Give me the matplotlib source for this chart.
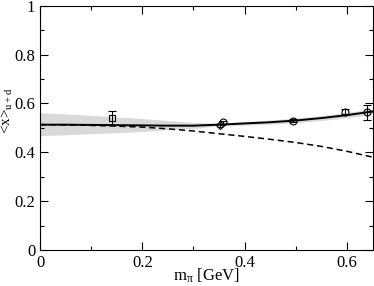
import matplotlib
matplotlib.use("Agg")
from matplotlib import pyplot as plt
from matplotlib.ticker import MultipleLocator

plt.rcParams['font.family'] = ['Liberation Serif', 'DejaVu Serif']
plt.rcParams['mathtext.fontset'] = 'custom'
plt.rcParams['mathtext.rm'] = 'Liberation Serif'
plt.rcParams['mathtext.it'] = 'Liberation Serif:italic'

# fit curves
curva_x = [0.0, 0.05, 0.1, 0.15, 0.2, 0.25, 0.3, 0.35, 0.4, 0.45, 0.5, 0.55, 0.6, 0.65]
solida = [0.513, 0.513, 0.512, 0.511, 0.510, 0.509, 0.509, 0.513, 0.518, 0.523, 0.530, 0.540, 0.552, 0.567]
discont = [0.513, 0.512, 0.510, 0.507, 0.503, 0.496, 0.487, 0.476, 0.465, 0.453, 0.440, 0.424, 0.404, 0.380]
banda_arriba = [0.562, 0.557, 0.551, 0.545, 0.538, 0.530, 0.522, 0.519, 0.526, 0.532, 0.540, 0.550, 0.563, 0.578]
banda_abajo = [0.468, 0.472, 0.476, 0.480, 0.485, 0.492, 0.498, 0.508, 0.511, 0.515, 0.521, 0.530, 0.541, 0.556]

# lattice points
cuadro_x = [0.141]
cuadro_y = [0.540]
cuadro_err = [0.028]

rombo_x = [0.351]
rombo_y = [0.510]
rombo_err = [0.005]

circ_x = [0.357, 0.495, 0.596, 0.640]
circ_y = [0.522, 0.530, 0.566, 0.563]
circ_err = [0.006, 0.006, 0.011, 0.032]

fig = plt.figure(figsize=(3.74, 2.86), dpi=100)
ax = fig.add_axes([0.107, 0.126, 0.889, 0.854])

ax.fill_between(curva_x, banda_abajo, banda_arriba, color="#d9d9d9", lw=0)
ax.plot(curva_x, solida, color="black", lw=1.4)
ax.plot(curva_x, discont, color="black", lw=1.1, ls=(0, (4, 2.5)))

ax.errorbar(cuadro_x, cuadro_y, yerr=cuadro_err, fmt="s", ms=5, mfc="none",
            mec="black", ecolor="black", elinewidth=0.8, capsize=3, mew=0.8)
ax.errorbar(rombo_x, rombo_y, yerr=rombo_err, fmt="D", ms=4, mfc="none",
            mec="black", ecolor="black", elinewidth=0.8, capsize=2, mew=0.8)
ax.errorbar(circ_x, circ_y, yerr=circ_err, fmt="o", ms=5, mfc="none",
            mec="black", ecolor="black", elinewidth=0.8, capsize=3, mew=0.8)

ax.set_xlim(0, 0.65)
ax.set_ylim(0, 1)
ax.xaxis.set_major_locator(MultipleLocator(0.2))
ax.xaxis.set_minor_locator(MultipleLocator(0.1))
ax.yaxis.set_major_locator(MultipleLocator(0.2))
ax.yaxis.set_minor_locator(MultipleLocator(0.1))
ax.xaxis.set_major_formatter(plt.FuncFormatter(lambda v, p: "0" if v == 0 else "%g" % v))
ax.yaxis.set_major_formatter(plt.FuncFormatter(lambda v, p: "0" if v == 0 else "%g" % v))
ax.tick_params(which="both", direction="in", top=True, right=True, labelsize=12, width=0.8)
ax.tick_params(which="major", length=6)
ax.tick_params(which="minor", length=3)
for s in ax.spines.values():
    s.set_linewidth(0.8)

ax.set_xlabel(r"m$_\mathrm{\pi}$ [GeV]", fontsize=12)
ax.xaxis.set_label_coords(0.5, -0.07)
ax.set_ylabel(r"<x>$_\mathrm{u+d}$", fontsize=11)
ax.yaxis.set_label_coords(-0.075, 0.57)

fig.savefig("out.png", dpi=100)
